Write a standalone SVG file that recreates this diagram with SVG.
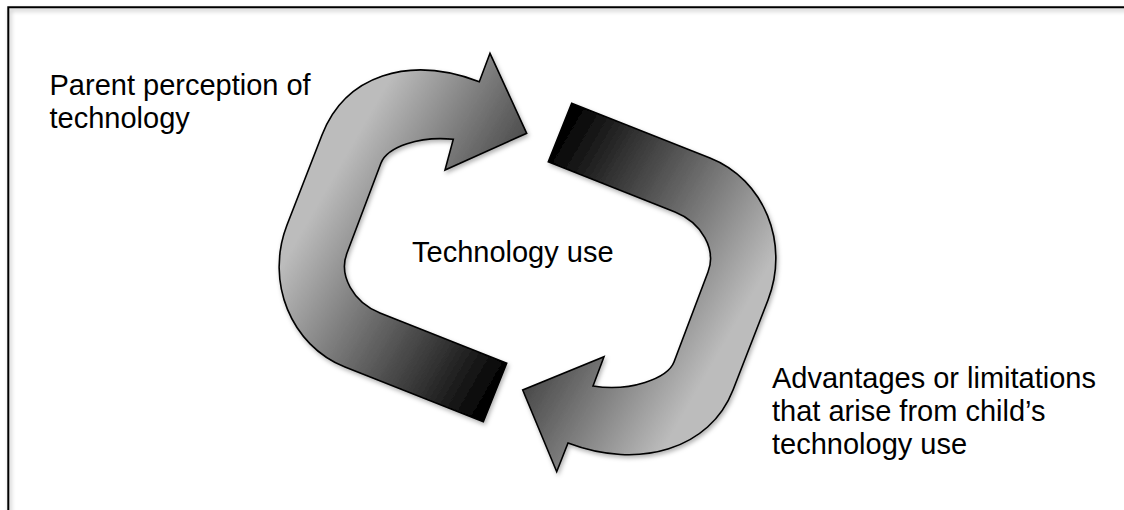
<svg xmlns="http://www.w3.org/2000/svg" width="1124" height="510" viewBox="0 0 1124 510">
  <style>
    .lbl { font-family: "Liberation Sans", Arial, Helvetica, sans-serif; font-size: 29px; fill: #000; }
    .arrow { stroke: #000; stroke-width: 1.6; stroke-linejoin: miter; }
    .frame { fill: none; stroke: #000; stroke-width: 2; }
  </style>
  <defs>
    <linearGradient id="g1" gradientUnits="userSpaceOnUse" x1="285" y1="260" x2="499.7" y2="384">
      <stop offset="0" stop-color="#bcbcbc"/>
      <stop offset="1" stop-color="#000"/>
    </linearGradient>
    <linearGradient id="g2" gradientUnits="userSpaceOnUse" x1="770" y1="265" x2="555.3" y2="141">
      <stop offset="0" stop-color="#bcbcbc"/>
      <stop offset="1" stop-color="#000"/>
    </linearGradient>
    <filter id="sh" x="-10%" y="-10%" width="130%" height="130%">
      <feDropShadow dx="1.5" dy="2.5" stdDeviation="2" flood-color="#000" flood-opacity="0.3"/>
    </filter>
  </defs>
  <rect width="1124" height="510" fill="#fff"/>
  <g id="border">
    <path class="frame" d="M8.3,515 V7.3 H1130" filter="url(#sh)"/>
  </g>
  <g id="connectors">
    <path id="arrow-top" class="arrow" fill="url(#g1)" filter="url(#sh)"
      d="M479.3,81.7 C407.9,54.6 345,75.9 322,135 L287,225 C264.9,281.9 291.1,345.7 345,367 L483.3,421.7 L506.7,363.3 L380,313 C353.2,302.3 338.3,275.4 347,253 L381,163 C387.4,146.6 419.9,135.9 453.3,139.3 L445,170 L526.7,133.3 L490,53.3 Z"/>
    <path id="arrow-bottom" class="arrow" fill="url(#g2)" filter="url(#sh)"
      d="M568,443 C639.4,470.1 710,449.1 733,390 L768,300 C790.1,243.1 763.9,179.3 710,158 L571.7,103.3 L548.3,161.7 L675,212 C701.8,222.7 716.7,249.6 708,272 L674,362 C667.6,378.4 630,392 593,386 L604,356.7 L522.7,390 L556.7,471.7 Z"/>
  </g>
  <g id="label-parent">
    <text class="lbl" x="49.5" y="95">Parent perception of</text>
    <text class="lbl" x="49.5" y="128">technology</text>
  </g>
  <g id="label-center">
    <text class="lbl" x="412" y="262">Technology use</text>
  </g>
  <g id="label-advantages">
    <text class="lbl" x="772" y="388">Advantages or limitations</text>
    <text class="lbl" x="772" y="421">that arise from child’s</text>
    <text class="lbl" x="772" y="454">technology use</text>
  </g>
</svg>
